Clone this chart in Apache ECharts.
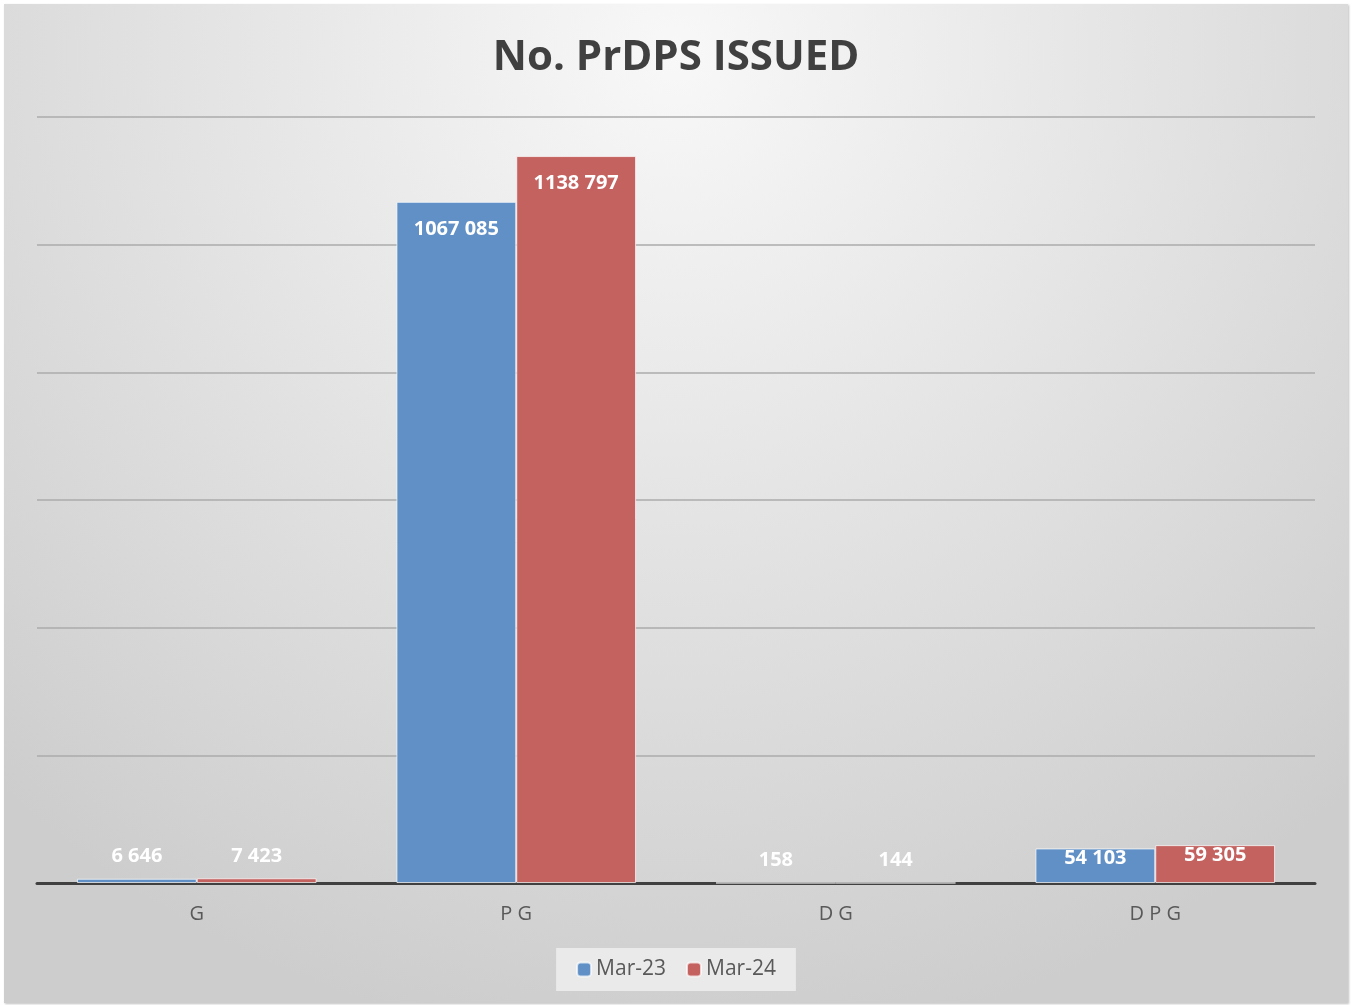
<!DOCTYPE html>
<html>
<head>
<meta charset="utf-8">
<script src="https://cdn.jsdelivr.net/npm/echarts@6/dist/echarts.min.js"></script>
<style>
  html, body { margin: 0; padding: 0; background: #ffffff; }
  #chart {
    position: absolute;
    left: 4px;
    top: 4px;
    width: 1344px;
    height: 999px;
    box-shadow: 1px 1px 2px rgba(0, 0, 0, 0.25);
  }
</style>
</head>
<body>
<div id="chart"></div>
<script>
// chart data
const categories = ['G', 'P G', 'D G', 'D P G']
const mar23 = [6646, 1067085, 158, 54103]
const mar24 = [7423, 1138797, 144, 59305]
const seriesNames = ['Mar-23', 'Mar-24']

const chart = echarts.init(document.getElementById('chart'))

// space before the last three digits only, as in the source ("1067 085")
const fmt = (v) => {
  const s = String(v)
  return s.length > 3 ? s.slice(0, -3) + ' ' + s.slice(-3) : s
}

// tiny bars get their label above the bar, others inside the top
const toItems = (arr) => arr.map(v => ({
  value: v,
  label: v < 20000
    ? { position: 'top', distance: 12 }
    : { position: 'insideTop', distance: v < 200000 ? 0 : 17 }
}))

const labelStyle = {
  show: true,
  color: '#ffffff',
  fontFamily: 'Open Sans',
  fontWeight: 'bold',
  fontSize: 20,
  formatter: (p) => fmt(p.value)
}

const option = {
  backgroundColor: new echarts.graphic.RadialGradient(0.5, 0.05, 1.0, [
    { offset: 0, color: '#f8f8f8' },
    { offset: 1, color: '#cdcdcd' }
  ]),
  title: {
    text: 'No. PrDPS ISSUED',
    left: 'center',
    top: 28,
    textStyle: {
      fontFamily: 'Open Sans',
      fontWeight: 'bold',
      fontSize: 42,
      color: '#404040'
    }
  },
  legend: {
    data: seriesNames,
    bottom: 12,
    left: 'center',
    itemWidth: 14,
    itemHeight: 14,
    itemGap: 20,
    padding: [11, 20],
    backgroundColor: 'rgba(236, 236, 236, 0.9)',
    textStyle: { fontFamily: 'Open Sans', fontSize: 21, color: '#595959' }
  },
  grid: {
    left: 33,
    right: 33,
    top: 113,
    bottom: 120
  },
  xAxis: {
    type: 'category',
    data: categories,
    axisLine: { lineStyle: { color: '#404040', width: 3 } },
    axisTick: { show: false },
    axisLabel: {
      fontFamily: 'Open Sans',
      fontSize: 20,
      color: '#595959',
      margin: 21
    }
  },
  yAxis: {
    type: 'value',
    min: 0,
    max: 1200000,
    interval: 200000,
    axisLabel: { show: false },
    axisLine: { show: false },
    axisTick: { show: false },
    splitLine: { lineStyle: { color: '#ababab', width: 1.5 } }
  },
  series: [
    {
      name: seriesNames[0],
      type: 'bar',
      data: toItems(mar23),
      barGap: '0%',
      barCategoryGap: '25%',
      itemStyle: { color: '#6090c6', borderColor: 'rgba(255,255,255,0.7)', borderWidth: 1 },
      label: labelStyle
    },
    {
      name: seriesNames[1],
      type: 'bar',
      data: toItems(mar24),
      barGap: '0%',
      barCategoryGap: '25%',
      itemStyle: { color: '#c46260', borderColor: 'rgba(255,255,255,0.7)', borderWidth: 1 },
      label: labelStyle
    }
  ]
}

chart.setOption(option)
</script>
</body>
</html>
